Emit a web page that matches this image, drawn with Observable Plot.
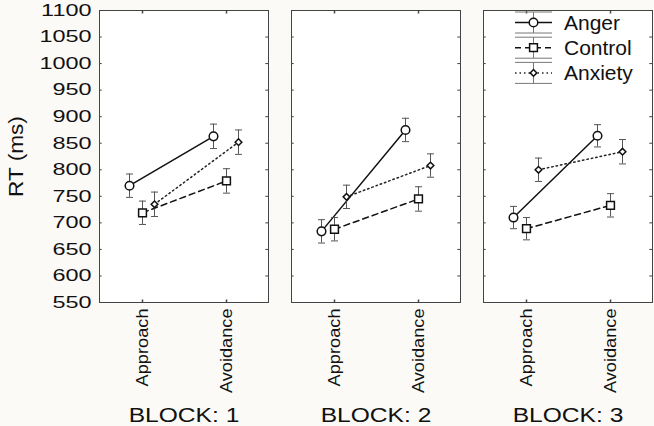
<!DOCTYPE html>
<html><head><meta charset="utf-8">
<script src="https://cdn.jsdelivr.net/npm/d3@7"></script>
<script src="https://cdn.jsdelivr.net/npm/@observablehq/plot@0.6"></script>
<style>
html,body{margin:0;padding:0;background:#fcfaf7;}
#wrap{position:relative;width:654px;height:426px;font-family:"Liberation Sans",Arial,sans-serif;}
#wrap svg{overflow:visible;}
#legend{position:absolute;left:0;top:0;}
</style></head><body><div id="wrap"></div>
<script>
// ---- data ----
const blocks = ["1", "2", "3"];
const conditions = ["Approach", "Avoidance"];
const groups = ["Anger", "Control", "Anxiety"];
// values ordered: block1 Approach, block1 Avoidance, block2 Approach, ...
const anger      = [770, 863, 684, 875, 710, 864];
const control    = [719, 779, 688, 745, 689, 733];
const anxiety    = [735, 852, 749, 808, 800, 834];
const angerErr   = [22, 23, 22, 22, 21, 21];
const controlErr = [22, 23, 22, 23, 21, 22];
const anxietyErr = [23, 23, 22, 22, 22, 23];
const yTicks = [550, 600, 650, 700, 750, 800, 850, 900, 950, 1000, 1050, 1100];

const seriesVals = {Anger: anger, Control: control, Anxiety: anxiety};
const seriesErr = {Anger: angerErr, Control: controlErr, Anxiety: anxietyErr};
const rows = [];
for (const g of groups) {
  blocks.forEach((b, i) => conditions.forEach((c, j) => {
    const k = i * 2 + j;
    rows.push({group: g, block: b, cond: c, value: seriesVals[g][k], err: seriesErr[g][k]});
  }));
}

const style = {
  Anger:   {dx: -13, symbol: "circle",   r: 4.3, dash: null,    stroke: "#111"},
  Control: {dx: 0,   symbol: "square",   r: 4.4, dash: "6,4",   stroke: "#111"},
  Anxiety: {dx: 12,  symbol: "diamond2", r: 3.0, dash: "1.5,3", stroke: "#222"}
};

const W = 654, H = 426, mL = 98, mR = 2, mT = 10, mB = 124;
const padIn = 0.12;
const bw = (W - mL - mR) / (3 - padIn) * (1 - padIn);
const tk = 3;

// custom stroke-only symbols
const capSym = {draw(c) { c.moveTo(-3.5, 0); c.lineTo(3.5, 0); }};
const tickDown = {draw(c) { c.moveTo(0, 0); c.lineTo(0, tk); }};
const tickUp = {draw(c) { c.moveTo(0, 0); c.lineTo(0, -tk); }};

const marks = [
  Plot.frame({fill: "white", stroke: "#444", strokeWidth: 1}),
  Plot.tickY(yTicks, {y: d => d, insetRight: bw - tk, stroke: "#444"}),
  Plot.tickY(yTicks, {y: d => d, insetLeft: bw - tk, stroke: "#444"}),
  Plot.dot(conditions, {x: d => d, frameAnchor: "top", symbol: tickDown, fill: "none", stroke: "#444"}),
  Plot.dot(conditions, {x: d => d, frameAnchor: "bottom", symbol: tickUp, fill: "none", stroke: "#444"}),
  Plot.axisY({ticks: yTicks, tickSize: 0, tickPadding: 8, fontSize: 16.5, label: null, tickFormat: d => String(d)}),
  Plot.axisY({ticks: [], tickSize: 0, fontSize: 20, label: "RT (ms)", labelAnchor: "center", labelArrow: "none", labelOffset: 91}),
  Plot.axisX({anchor: "bottom", tickRotate: -90, tickSize: 0, tickPadding: 6, fontSize: 17, label: null}),
  Plot.axisFx({anchor: "bottom", tickSize: 0, tickPadding: 106, fontSize: 19.5, label: null, tickFormat: d => `BLOCK: ${d}`})
];

for (const g of groups) {
  const s = style[g];
  const data = rows.filter(d => d.group === g);
  marks.push(
    Plot.ruleX(data, {fx: "block", x: "cond", y1: d => d.value - d.err, y2: d => d.value + d.err, dx: s.dx, stroke: "#555", strokeWidth: 1}),
    Plot.dot(data, {fx: "block", x: "cond", y: d => d.value - d.err, dx: s.dx, symbol: capSym, fill: "none", stroke: "#555", strokeWidth: 1}),
    Plot.dot(data, {fx: "block", x: "cond", y: d => d.value + d.err, dx: s.dx, symbol: capSym, fill: "none", stroke: "#555", strokeWidth: 1}),
    Plot.line(data, {fx: "block", x: "cond", y: "value", dx: s.dx, stroke: s.stroke, strokeWidth: 1.5, strokeDasharray: s.dash}),
    Plot.dot(data, {fx: "block", x: "cond", y: "value", dx: s.dx, symbol: s.symbol, r: s.r, fill: "white", stroke: "#111", strokeWidth: 1.5})
  );
}

const chart = Plot.plot({
  width: W, height: H,
  marginLeft: mL, marginRight: mR, marginTop: mT, marginBottom: mB,
  style: {fontFamily: '"Liberation Sans", Arial, sans-serif', color: "#111", background: "transparent"},
  x: {type: "point", domain: conditions, padding: 0.5},
  y: {domain: [550, 1100]},
  fx: {domain: blocks, paddingInner: padIn, paddingOuter: 0},
  marks
});
document.getElementById("wrap").appendChild(chart);

// widen glyphs to match the reference's broad lettering
function widen(sel, factor) {
  d3.select(chart).selectAll(sel).each(function () {
    const L = this.getComputedTextLength();
    if (L > 0) this.setAttribute("textLength", (L * factor).toFixed(1)), this.setAttribute("lengthAdjust", "spacingAndGlyphs");
  });
}
widen('g[aria-label="y-axis tick label"] text', 1.42);
widen('g[aria-label="fx-axis tick label"] text', 1.26);
widen('g[aria-label="x-axis tick label"] text', 1.07);
widen('g[aria-label="y-axis label"] text', 1.13);

// ---- legend (inside BLOCK 3 panel, top right) ----
const leg = d3.select("#wrap").append("svg").attr("id", "legend")
  .attr("width", W).attr("height", 100);
const lx0 = 515, lx1 = 552, lcx = 533.5, ltx = 564;
groups.forEach((g, i) => {
  const s = style[g];
  const cy = 22.5 + i * 25.2;
  const gEl = leg.append("g");
  [cy - 10.5, cy + 10.5].forEach(y => gEl.append("line")
    .attr("x1", lx0).attr("x2", lx1).attr("y1", y).attr("y2", y)
    .attr("stroke", "#777").attr("stroke-width", 1));
  gEl.append("line").attr("x1", lcx).attr("x2", lcx).attr("y1", cy - 10.5).attr("y2", cy + 10.5)
    .attr("stroke", "#777");
  gEl.append("line").attr("x1", lx0).attr("x2", lx1).attr("y1", cy).attr("y2", cy)
    .attr("stroke", s.stroke).attr("stroke-width", 1.5).attr("stroke-dasharray", s.dash);
  const sym = {circle: d3.symbolCircle, square: d3.symbolSquare, diamond2: d3.symbolDiamond2}[s.symbol];
  gEl.append("path").attr("transform", `translate(${lcx},${cy})`)
    .attr("d", d3.symbol(sym, Math.PI * s.r * s.r)())
    .attr("fill", "white").attr("stroke", "#111").attr("stroke-width", 1.5);
  gEl.append("text").attr("x", ltx).attr("y", cy).attr("dy", "0.35em")
    .attr("font-size", 21).attr("fill", "#111")
    .attr("font-family", '"Liberation Sans", Arial, sans-serif').text(g);
});
</script></body></html>
